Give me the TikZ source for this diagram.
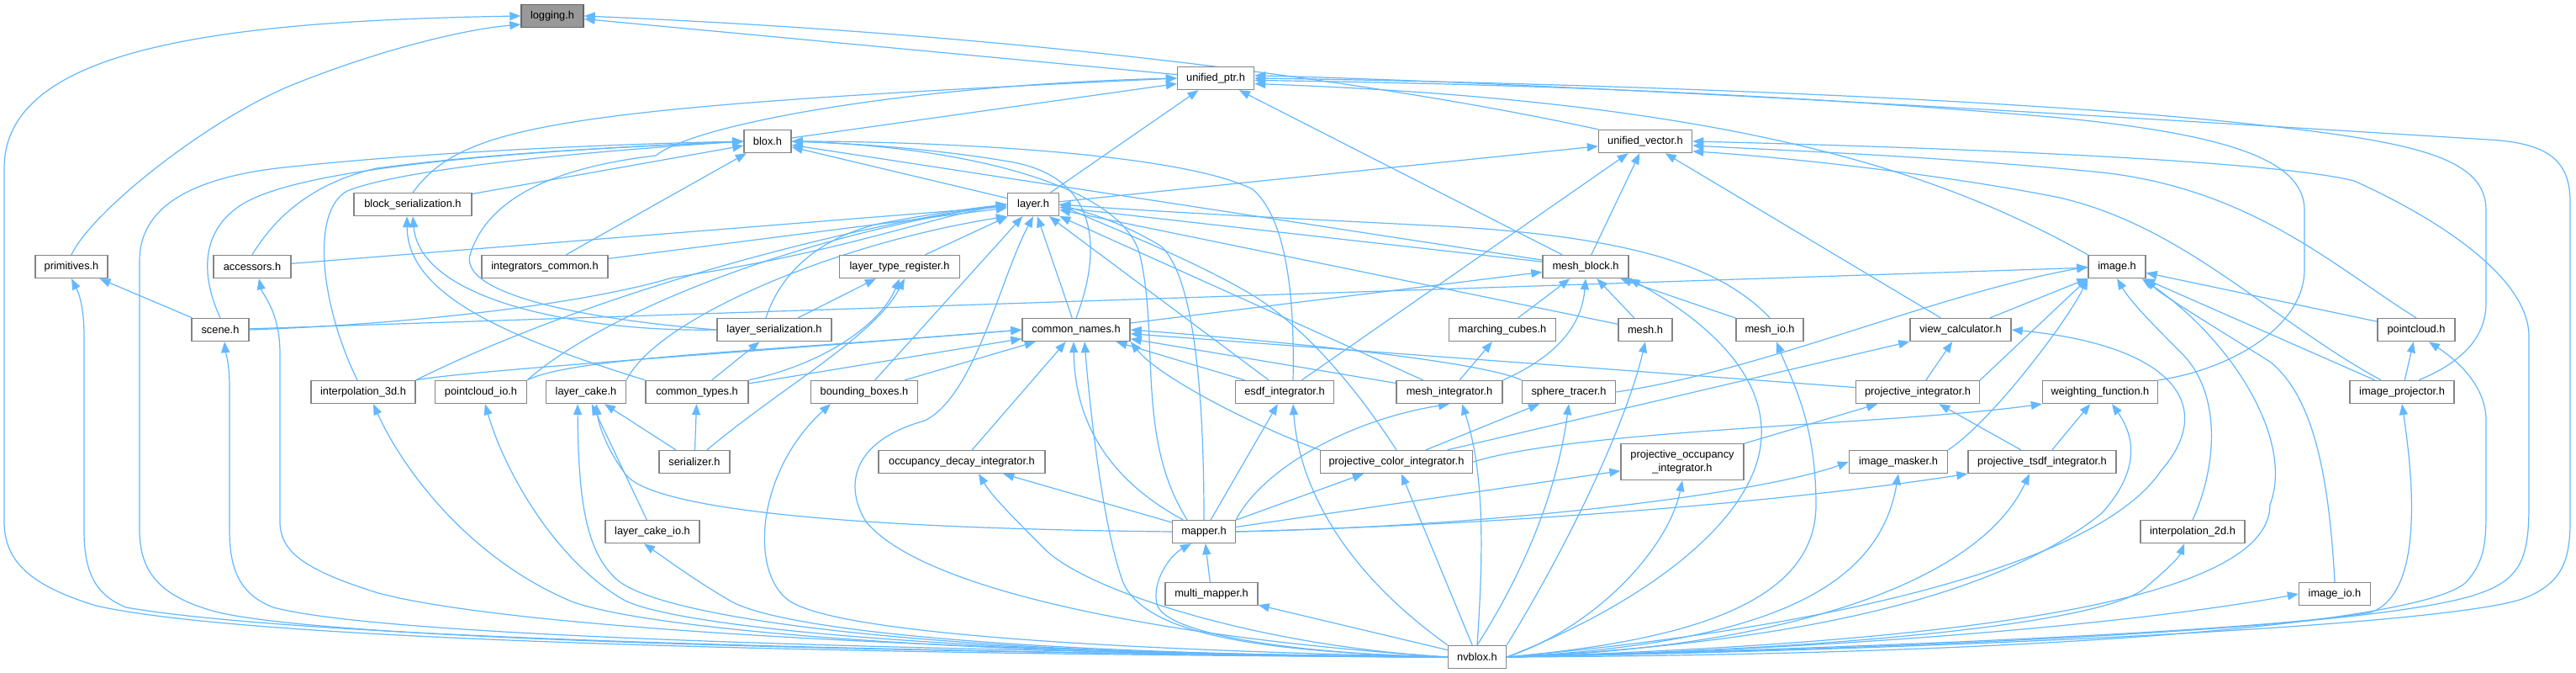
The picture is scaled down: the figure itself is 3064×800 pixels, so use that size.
\documentclass[tikz,border=0pt]{standalone}
\usepackage{fontspec}
\setmainfont{Liberation Sans}
\usetikzlibrary{arrows.meta}
\pgfdeclarelayer{back}
\pgfdeclarelayer{bg}
\pgfsetlayers{back,bg,main}
\definecolor{edgec}{HTML}{63B8FF}
\definecolor{nodeb}{HTML}{858585}
\definecolor{rootf}{HTML}{999999}
\definecolor{rootb}{HTML}{666666}
\begin{document}
\begin{tikzpicture}[x=1pt,y=-1pt,
  nd/.style={draw=nodeb, line width=1.4pt, fill=white, minimum height=27pt, inner sep=0pt, font=\fontsize{12.8}{16}\selectfont},
  root/.style={nd, fill=rootf, draw=rootb},
  e/.style={draw=edgec, line width=1.2pt, -{Triangle[length=13pt,width=10pt]}}]
\begin{pgfonlayer}{back}
\fill[white] (0,0) rectangle (3064,800);
\end{pgfonlayer}
\useasboundingbox (0,0) rectangle (3064,800);
% nodes
\node[root, minimum width=74pt] (logging) at (657,19) {logging.h};
\node[nd, minimum width=91pt] (unifiedptr) at (1446,93) {unified\_ptr.h};
\node[nd, minimum width=56pt] (blox) at (913,168) {blox.h};
\node[nd, minimum width=111pt] (unifiedvector) at (1957,168) {unified\_vector.h};
\node[nd, minimum width=140pt] (blockser) at (491,243) {block\_serialization.h};
\node[nd, minimum width=61pt] (layer) at (1229,243) {layer.h};
\node[nd, minimum width=86pt] (primitives) at (85,317) {primitives.h};
\node[nd, minimum width=92pt] (accessors) at (300,317) {accessors.h};
\node[nd, minimum width=150pt] (intcommon) at (648,317) {integrators\_common.h};
\node[nd, minimum width=143pt] (layertypereg) at (1070,317) {layer\_type\_register.h};
\node[nd, minimum width=102pt] (meshblock) at (1886,317) {mesh\_block.h};
\node[nd, minimum width=68pt] (image) at (2518,317) {image.h};
\node[nd, minimum width=68pt] (scene) at (262,392) {scene.h};
\node[nd, minimum width=136pt] (layerser) at (921,392) {layer\_serialization.h};
\node[nd, minimum width=128pt] (commonnames) at (1280,392) {common\_names.h};
\node[nd, minimum width=127pt] (marchingcubes) at (1787,392) {marching\_cubes.h};
\node[nd, minimum width=64pt] (mesh) at (1957,392) {mesh.h};
\node[nd, minimum width=80pt] (meshio) at (2105,392) {mesh\_io.h};
\node[nd, minimum width=120pt] (viewcalc) at (2332,392) {view\_calculator.h};
\node[nd, minimum width=92pt] (pointcloud) at (2874,392) {pointcloud.h};
\node[nd, minimum width=124pt] (interp3d) at (432,466) {interpolation\_3d.h};
\node[nd, minimum width=109pt] (pointcloudio) at (572,466) {pointcloud\_io.h};
\node[nd, minimum width=95pt] (layercake) at (697,466) {layer\_cake.h};
\node[nd, minimum width=122pt] (commontypes) at (829,466) {common\_types.h};
\node[nd, minimum width=127pt] (bboxes) at (1028,466) {bounding\_boxes.h};
\node[nd, minimum width=117pt] (esdf) at (1528,466) {esdf\_integrator.h};
\node[nd, minimum width=126pt] (meshint) at (1724,466) {mesh\_integrator.h};
\node[nd, minimum width=111pt] (spheretracer) at (1866,466) {sphere\_tracer.h};
\node[nd, minimum width=147pt] (projint) at (2281,466) {projective\_integrator.h};
\node[nd, minimum width=137pt] (weighting) at (2498,466) {weighting\_function.h};
\node[nd, minimum width=124pt] (imageproj) at (2857,466) {image\_projector.h};
\node[nd, minimum width=84pt] (serializer) at (826,549) {serializer.h};
\node[nd, minimum width=198pt] (occdecay) at (1144,549) {occupancy\_decay\_integrator.h};
\node[nd, minimum width=181pt] (pcolor) at (1661,549) {projective\_color\_integrator.h};
\node[nd, minimum width=146pt, minimum height=43pt, align=center] (pocc) at (2001,549) {projective\_occupancy\\\_integrator.h};
\node[nd, minimum width=117pt] (imagemasker) at (2258,549) {image\_masker.h};
\node[nd, minimum width=176pt] (ptsdf) at (2429,549) {projective\_tsdf\_integrator.h};
\node[nd, minimum width=112pt] (layercakeio) at (776,632) {layer\_cake\_io.h};
\node[nd, minimum width=75pt] (mapper) at (1432,632) {mapper.h};
\node[nd, minimum width=124pt] (interp2d) at (2608,632) {interpolation\_2d.h};
\node[nd, minimum width=110pt] (multimapper) at (1441,706) {multi\_mapper.h};
\node[nd, minimum width=85pt] (imageio) at (2777,706) {image\_io.h};
\node[nd, minimum width=69pt] (nvblox) at (1757,781) {nvblox.h};

\begin{pgfonlayer}{bg}
% logging.h
\draw[e] (nvblox.west) .. controls (1000,778) and (300,762) .. (114,720) .. controls (40,697) and (5,670) .. (5,620) -- (5,200) .. controls (5,60) and (250,25) .. (logging.west);
\draw[e] (primitives.north) .. controls (110,250) and (250,140) .. (350,100) .. controls (450,60) and (550,35) .. (logging.195);
\draw[e] (unifiedptr) -- (logging);
\draw[e] (unifiedvector.north west) .. controls (1700,110) and (1300,45) .. (logging.east);
% unified_ptr.h
\draw[e] (blockser.north) .. controls (550,150) and (650,128) .. (unifiedptr.west);
\draw[e] (blox) -- (unifiedptr);
\draw[e] (layer) -- (unifiedptr);
\draw[e] (meshblock) -- (unifiedptr);
\draw[e] (layerser.west) .. controls (700,380) and (540,350) .. (560,300) .. controls (580,240) and (650,200) .. (780,185) .. controls (830,145) and (1100,100) .. (unifiedptr.west);
\draw[e] (image.north west) .. controls (2300,200) and (2050,120) .. (unifiedptr.-8);
\draw[e] (weighting.north east) .. controls (2650,440) and (2741,390) .. (2741,320) -- (2741,250) .. controls (2741,190) and (2650,160) .. (2450,140) .. controls (2100,110) and (1800,100) .. (unifiedptr.-3);
\draw[e] ([xshift=20pt]imageproj.north) .. controls (2930,430) and (2957,400) .. (2957,360) -- (2957,250) .. controls (2957,190) and (2880,170) .. (2700,150) .. controls (2400,115) and (1800,97) .. (unifiedptr.east);
\draw[e] (nvblox.east) .. controls (2300,772) and (2900,745) .. (3000,712) .. controls (3045,695) and (3057,670) .. (3057,620) -- (3057,240) .. controls (3057,190) and (3030,170) .. (2960,166) .. controls (2700,150) and (1900,100) .. (unifiedptr.4);
% unified_vector.h
\draw[e] (layer) -- (unifiedvector);
\draw[e] (esdf) -- (unifiedvector);
\draw[e] (meshblock) -- (unifiedvector);
\draw[e] (viewcalc) -- (unifiedvector);
\draw[e] (nvblox.east) .. controls (2400,768) and (2850,742) .. (2950,705) .. controls (3000,688) and (3008,660) .. (3008,600) -- (3008,400) .. controls (3008,330) and (2900,260) .. (2800,215) .. controls (2700,190) and (2300,175) .. (unifiedvector.east);
\draw[e] (pointcloud.north) .. controls (2780,320) and (2680,225) .. (2500,205) .. controls (2300,185) and (2100,178) .. (unifiedvector.-5);
\draw[e] ([xshift=-25pt]imageproj.north) .. controls (2700,380) and (2600,270) .. (2450,235) .. controls (2300,205) and (2100,185) .. (unifiedvector.-12);
% blox.h
\draw[e] (nvblox.west) .. controls (1000,775) and (400,760) .. (260,728) .. controls (190,710) and (166,680) .. (166,630) -- (166,310) .. controls (166,250) and (220,210) .. (348,198) .. controls (500,182) and (700,172) .. (blox.west);
\draw[e] (scene.north) .. controls (235,320) and (240,260) .. (308,233) .. controls (400,195) and (650,178) .. (blox.west);
\draw[e] (accessors.north) .. controls (320,270) and (360,220) .. (448,200) .. controls (600,180) and (750,175) .. (blox.west);
\draw[e] ([xshift=-7pt]interp3d.north) .. controls (380,360) and (370,250) .. (413,227) .. controls (480,200) and (700,180) .. (blox.west);
\draw[e] (blockser) -- (blox);
\draw[e] (layer) -- (blox);
\draw[e] (intcommon) -- (blox);
\draw[e] (meshblock) -- (blox);
\draw[e] (commonnames.north) .. controls (1310,300) and (1310,210) .. (1200,192) .. controls (1100,175) and (1000,170) .. (blox.east);
\draw[e] ([xshift=-20pt]mapper.north) .. controls (1350,520) and (1380,400) .. (1355,300) .. controls (1330,220) and (1150,175) .. (blox.east);
\draw[e] ([xshift=10pt]esdf.north) .. controls (1540,350) and (1530,260) .. (1490,225) .. controls (1400,180) and (1100,168) .. (blox.east);
% layer.h
\draw[e] (accessors) -- (layer);
\draw[e] (scene.east) .. controls (500,385) and (700,360) .. (800,330) .. controls (1000,300) and (1100,260) .. (layer.west);
\draw[e] (intcommon) -- (layer);
\draw[e] (layertypereg) -- (layer);
\draw[e] ([xshift=-10pt]layerser.north) .. controls (930,320) and (980,280) .. (1050,265) .. controls (1120,252) and (1170,246) .. (layer.west);
\draw[e] (interp3d.north east) .. controls (700,350) and (1000,270) .. (layer.west);
\draw[e] (pointcloudio.north east) .. controls (720,370) and (950,280) .. (layer.west);
\draw[e] (layercake.north east) .. controls (780,380) and (990,290) .. (layer.south west);
\draw[e] (bboxes) -- (layer);
\draw[e] (commonnames) -- (layer);
\draw[e] (esdf) -- (layer);
\draw[e] (meshint) -- (layer);
\draw[e] (pcolor.north) .. controls (1625,480) and (1560,390) .. (1480,345) .. controls (1400,300) and (1300,262) .. (layer.east);
\draw[e] (meshblock) -- (layer);
\draw[e] (mesh) -- (layer);
\draw[e] (meshio.north) .. controls (2050,320) and (1950,280) .. (1700,268) .. controls (1500,258) and (1350,250) .. (layer.east);
\draw[e] (mapper.north) .. controls (1432,500) and (1425,330) .. (1380,292) .. controls (1330,262) and (1290,252) .. (layer.east);
\draw[e] (nvblox.west) .. controls (1400,760) and (1100,705) .. (1030,620) .. controls (1005,580) and (1010,525) .. (1100,500) .. controls (1160,470) and (1190,330) .. (layer.south);
% primitives.h, scene.h, accessors.h
\draw[e] (scene) -- (primitives);
\draw[e] (nvblox.west) .. controls (1000,775) and (350,757) .. (150,722) .. controls (113,707) and (100,680) .. (100,630) -- (100,400) .. controls (100,360) and (92,345) .. (primitives.south);
\draw[e] (nvblox.west) .. controls (1000,772) and (450,755) .. (325,722) .. controls (287,707) and (273,680) .. (273,630) -- (273,460) .. controls (273,430) and (268,418) .. ([xshift=5pt]scene.south);
\draw[e] (nvblox.west) .. controls (1100,775) and (600,745) .. (450,705) .. controls (360,677) and (333,655) .. (333,620) -- (333,420) .. controls (333,370) and (312,350) .. ([xshift=8pt]accessors.south);
% serialization
\draw[e] (commontypes.north west) .. controls (600,400) and (485,350) .. ([xshift=-7pt]blockser.south);
\draw[e] (layerser.west) .. controls (700,395) and (500,360) .. (blockser.south);
\draw[e] (layerser) -- (layertypereg);
\draw[e] (commontypes.north east) .. controls (990,430) and (1050,380) .. (layertypereg.south);
\draw[e] ([xshift=15pt]serializer.north) .. controls (930,460) and (1040,400) .. ([xshift=6pt]layertypereg.south);
\draw[e] (commontypes) -- (layerser);
\draw[e] (serializer) -- (commontypes);
% common_names.h
\draw[e] (interp3d.north east) .. controls (560,440) and (900,418) .. (commonnames.west);
\draw[e] (pointcloudio.north east) .. controls (680,425) and (900,418) .. (commonnames.west);
\draw[e] (commontypes) -- (commonnames);
\draw[e] (bboxes) -- (commonnames);
\draw[e] (occdecay) -- (commonnames);
\draw[e] ([xshift=-25pt]mapper.north) .. controls (1300,560) and (1278,480) .. ([xshift=-3pt]commonnames.south);
\draw[e] (nvblox.west) .. controls (1500,775) and (1360,755) .. (1335,690) .. controls (1310,620) and (1295,470) .. ([xshift=10pt]commonnames.south);
\draw[e] (esdf) -- (commonnames);
\draw[e] (pcolor.north west) .. controls (1500,510) and (1380,450) .. (commonnames.south east);
\draw[e] (meshint) -- (commonnames);
\draw[e] (spheretracer.north west) .. controls (1750,425) and (1450,400) .. (commonnames.east);
\draw[e] (projint) -- (commonnames);
% mesh_block.h
\draw[e] (commonnames) -- (meshblock);
\draw[e] (marchingcubes) -- (meshblock);
\draw[e] (meshint.north east) .. controls (1860,420) and (1882,380) .. (meshblock.south);
\draw[e] (mesh) -- (meshblock);
\draw[e] (meshio) -- (meshblock);
\draw[e] (nvblox.east) .. controls (1950,720) and (2090,620) .. (2095,520) .. controls (2100,430) and (2000,365) .. (meshblock.south east);
\draw[e] (meshint) -- (marchingcubes);
\draw[e] (nvblox.north east) .. controls (1870,640) and (1935,500) .. (mesh.south);
\draw[e] (nvblox.east) .. controls (2000,762) and (2160,720) .. (2160,600) .. controls (2160,500) and (2130,450) .. ([xshift=8pt]meshio.south);
% view_calculator.h, projective_integrator.h
\draw[e] (projint) -- (viewcalc);
\draw[e] (nvblox.east) .. controls (2200,745) and (2500,665) .. (2570,560) .. controls (2640,480) and (2580,410) .. (viewcalc.east);
\draw[e] (pcolor) -- (viewcalc);
\draw[e] (pocc) -- (projint);
\draw[e] (ptsdf) -- (projint);
% integrators
\draw[e] (pcolor) -- (spheretracer);
\draw[e] (nvblox.north) .. controls (1800,700) and (1850,600) .. (spheretracer.south);
\draw[e] (mapper.north east) .. controls (1500,560) and (1600,500) .. (meshint.south);
\draw[e] (nvblox.north) .. controls (1765,650) and (1765,560) .. ([xshift=15pt]meshint.south);
\draw[e] (mapper) -- (esdf);
\draw[e] (nvblox.north west) .. controls (1600,680) and (1545,580) .. ([xshift=10pt]esdf.south);
\draw[e] (mapper) -- (pcolor);
\draw[e] (nvblox) -- (pcolor);
\draw[e] (mapper) -- (pocc);
\draw[e] (nvblox.east) .. controls (1900,745) and (1985,650) .. (pocc.south);
\draw[e] (mapper.east) .. controls (1800,625) and (2100,585) .. (imagemasker.west);
\draw[e] (nvblox.east) .. controls (2100,765) and (2235,700) .. (imagemasker.south);
\draw[e] (imagemasker.north east) .. controls (2370,500) and (2460,380) .. (image.south west);
\draw[e] (mapper.east) .. controls (1900,620) and (2200,585) .. (ptsdf.south west);
\draw[e] (nvblox.east) .. controls (2100,772) and (2350,700) .. ([xshift=-15pt]ptsdf.south);
\draw[e] (ptsdf) -- (weighting);
\draw[e] (pcolor.east) .. controls (1880,510) and (2250,505) .. (weighting.south west);
\draw[e] (nvblox.east) .. controls (2200,762) and (2400,690) .. (2500,610) .. controls (2545,560) and (2540,520) .. ([xshift=14pt]weighting.south);
% image.h
\draw[e] (scene) -- (image);
\draw[e] (spheretracer.east) .. controls (2100,440) and (2300,350) .. (image.west);
\draw[e] (viewcalc) -- (image);
\draw[e] (projint.north east) -- (image.south west);
\draw[e] (interp2d.north) .. controls (2635,560) and (2645,470) .. (2595,420) .. controls (2565,390) and (2535,360) .. (image.south);
\draw[e] (imageio.north) .. controls (2770,560) and (2750,470) .. (2700,430) .. controls (2620,380) and (2570,350) .. (image.south east);
\draw[e] (pointcloud) -- (image);
\draw[e] (imageproj) -- (image);
\draw[e] (nvblox.east) .. controls (2300,765) and (2700,720) .. (2700,600) .. controls (2730,520) and (2650,400) .. ([xshift=-5pt]image.south east);
% pointcloud.h, image_projector.h, interpolation_2d.h, image_io.h
\draw[e] (imageproj) -- (pointcloud);
\draw[e] (nvblox.east) .. controls (2500,778) and (2900,735) .. (2935,690) .. controls (2957,665) and (2957,640) .. (2957,600) -- (2957,500) .. controls (2957,460) and (2925,430) .. ([xshift=15pt]pointcloud.south);
\draw[e] (nvblox.east) .. controls (2300,768) and (2700,748) .. (2820,728) .. controls (2870,710) and (2878,620) .. (imageproj.south);
\draw[e] (nvblox.east) .. controls (2200,772) and (2500,740) .. (2550,700) .. controls (2580,675) and (2592,662) .. ([xshift=-10pt]interp2d.south);
\draw[e] (nvblox.east) .. controls (2200,772) and (2550,740) .. (imageio.west);
% mapper.h, multi_mapper.h
\draw[e] (multimapper) -- (mapper);
\draw[e] (nvblox.west) .. controls (1550,778) and (1385,755) .. (1376,718) .. controls (1370,690) and (1392,660) .. ([xshift=-15pt]mapper.south);
\draw[e] (nvblox) -- (multimapper);
\draw[e] (mapper.west) .. controls (1000,628) and (780,605) .. (745,565) .. controls (722,535) and (712,505) .. ([xshift=12pt]layercake.south);
\draw[e] (mapper) -- (occdecay);
% layer_cake.h and io
\draw[e] (nvblox.west) .. controls (1100,780) and (790,735) .. (735,690) .. controls (698,658) and (688,600) .. ([xshift=-10pt]layercake.south);
\draw[e] (layercakeio) -- (layercake);
\draw[e] (serializer) -- (layercake);
\draw[e] (nvblox.west) .. controls (1200,778) and (930,748) .. (870,715) .. controls (830,692) and (800,670) .. ([xshift=-10pt]layercakeio.south);
\draw[e] (nvblox.west) .. controls (1100,780) and (760,745) .. (680,715) .. controls (560,665) and (480,560) .. ([xshift=12pt]interp3d.south);
\draw[e] (nvblox.west) .. controls (1100,778) and (790,742) .. (740,712) .. controls (660,665) and (600,560) .. ([xshift=5pt]pointcloudio.south);
\draw[e] (nvblox.west) .. controls (1300,772) and (1000,752) .. (940,715) .. controls (890,682) and (900,560) .. ([xshift=-40pt]bboxes.south);
\draw[e] (nvblox.west) .. controls (1500,768) and (1300,705) .. (1245,655) .. controls (1205,615) and (1180,590) .. ([xshift=20pt]occdecay.south);
\end{pgfonlayer}
\end{tikzpicture}
\end{document}
